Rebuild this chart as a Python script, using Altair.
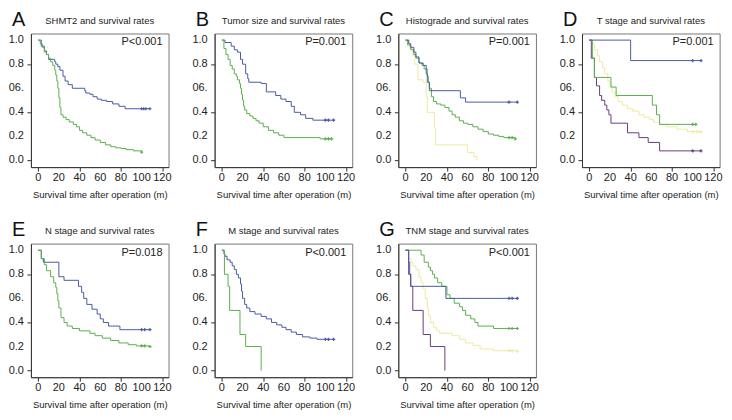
import altair as alt
import pandas as pd

FONT = "Liberation Sans"

GROUPS = ["g1", "g2", "g3", "g4"]
COLORS = ["#4a5ca4", "#5cb04e", "#eeea9e", "#6b3c7c"]

letters = ["A", "B", "C", "D", "E", "F", "G"]
titles = [
    "SHMT2 and survival rates",
    "Tumor size and survival rates",
    "Histograde and survival rates",
    "T stage and survival rates",
    "N stage and survival rates",
    "M stage and survival rates",
    "TNM stage and survival rates",
]
p_values = ["P<0.001", "P=0.001", "P=0.001", "P=0.001", "P=0.018", "P<0.001", "P<0.001"]

x_ticks = [0, 20, 40, 60, 80, 100, 120]
x_labels = ["0", "20", "40", "60", "80", "100", "120"]
y_ticks = [0.0, 0.2, 0.4, 0.6, 0.8, 1.0]
y_labels = ["0.0", "0.2", "0.4", "06.", "0.8", "1.0"]
x_title = "Survival time after operation (m)"

# ---- Panel A ----
A_g1_t = [0, 3, 6, 8, 10, 16, 17, 19, 21, 24, 26, 29, 33, 45, 46, 50, 53, 57, 61, 66, 72, 78, 84, 108]
A_g1_s = [1.0, 0.95, 0.91, 0.88, 0.84, 0.82, 0.80, 0.78, 0.75, 0.70, 0.66, 0.63, 0.60, 0.58, 0.56, 0.55, 0.53, 0.51, 0.50, 0.49, 0.47, 0.45, 0.43, 0.43]
A_g1_c = [100, 102, 104, 108]
A_g2_t = [0, 2, 4, 6, 8, 10, 12, 14, 16, 17, 18, 19, 20, 21, 22, 24, 27, 30, 34, 37, 40, 43, 47, 51, 55, 60, 65, 70, 75, 80, 85, 92, 100]
A_g2_s = [1.0, 0.97, 0.94, 0.90, 0.88, 0.85, 0.82, 0.79, 0.75, 0.71, 0.66, 0.60, 0.52, 0.44, 0.38, 0.36, 0.34, 0.32, 0.30, 0.28, 0.25, 0.23, 0.21, 0.19, 0.17, 0.15, 0.13, 0.115, 0.105, 0.10, 0.09, 0.08, 0.07]
A_g2_c = [100]

# ---- Panel B ----
B_g1_t = [0, 3, 9, 12, 15, 18, 20, 23, 25, 26, 38, 43, 52, 57, 62, 67, 70, 76, 81, 88, 108]
B_g1_s = [1.0, 0.98, 0.95, 0.92, 0.90, 0.84, 0.80, 0.72, 0.68, 0.65, 0.64, 0.57, 0.54, 0.51, 0.49, 0.45, 0.40, 0.38, 0.35, 0.335, 0.335]
B_g1_c = [100, 103, 108]
B_g2_t = [0, 2, 4, 6, 8, 10, 12, 14, 15, 17, 18, 19, 20, 21, 22, 24, 27, 30, 33, 36, 40, 45, 50, 55, 60, 95, 106]
B_g2_s = [1.0, 0.93, 0.88, 0.84, 0.79, 0.76, 0.72, 0.70, 0.67, 0.64, 0.60, 0.55, 0.50, 0.45, 0.42, 0.39, 0.37, 0.35, 0.33, 0.31, 0.28, 0.25, 0.23, 0.21, 0.19, 0.18, 0.18]
B_g2_c = [100, 103, 106]

# ---- Panel C ----
C_g1_t = [0, 3, 5, 8, 10, 13, 17, 20, 21, 23, 53, 58, 108]
C_g1_s = [1.0, 0.97, 0.94, 0.90, 0.86, 0.81, 0.79, 0.72, 0.65, 0.58, 0.52, 0.485, 0.485]
C_g1_c = [100, 108]
C_g2_t = [0, 2, 5, 8, 10, 13, 16, 18, 21, 22, 23, 25, 27, 30, 34, 38, 42, 45, 48, 52, 56, 60, 65, 70, 75, 80, 85, 90, 95, 106]
C_g2_s = [1.0, 0.96, 0.92, 0.88, 0.85, 0.81, 0.79, 0.76, 0.70, 0.65, 0.60, 0.53, 0.49, 0.47, 0.46, 0.44, 0.41, 0.38, 0.36, 0.33, 0.31, 0.30, 0.28, 0.26, 0.24, 0.22, 0.21, 0.20, 0.19, 0.18]
C_g2_c = [100, 103, 106]
C_g3_t = [0, 4, 7, 9, 12, 17, 20, 21, 28, 29, 60, 66, 69]
C_g3_s = [1.0, 0.93, 0.87, 0.80, 0.67, 0.65, 0.53, 0.40, 0.27, 0.13, 0.067, 0.033, 0.0]
C_g3_c = []

# ---- Panel D ----
D_g1_t = [0, 40, 108]
D_g1_s = [1.0, 0.83, 0.83]
D_g1_c = [100, 108]
D_g2_t = [0, 3, 5, 21, 26, 61, 65, 68, 103]
D_g2_s = [1.0, 0.85, 0.69, 0.61, 0.54, 0.46, 0.38, 0.30, 0.30]
D_g2_c = [100, 103]
D_g3_t = [0, 3, 5, 8, 10, 13, 15, 18, 20, 22, 25, 28, 32, 37, 42, 48, 53, 58, 62, 68, 75, 85, 95, 108]
D_g3_s = [1.0, 0.97, 0.92, 0.87, 0.82, 0.77, 0.72, 0.66, 0.62, 0.57, 0.53, 0.49, 0.46, 0.43, 0.41, 0.38, 0.36, 0.34, 0.32, 0.30, 0.28, 0.26, 0.24, 0.235]
D_g3_c = [100, 104, 108]
D_g4_t = [0, 2, 5, 7, 10, 12, 15, 17, 19, 21, 37, 48, 57, 68, 108]
D_g4_s = [1.0, 0.85, 0.69, 0.62, 0.54, 0.50, 0.46, 0.42, 0.38, 0.31, 0.23, 0.19, 0.15, 0.08, 0.08]
D_g4_c = [100, 108]

# ---- Panel E ----
E_g1_t = [0, 3, 5, 20, 25, 39, 42, 44, 47, 52, 57, 60, 63, 68, 79, 108]
E_g1_s = [1.0, 0.93, 0.90, 0.78, 0.75, 0.70, 0.65, 0.60, 0.55, 0.51, 0.47, 0.43, 0.40, 0.37, 0.34, 0.34]
E_g1_c = [100, 103, 108]
E_g2_t = [0, 3, 6, 8, 12, 15, 17, 18, 19, 20, 22, 25, 28, 33, 40, 50, 55, 62, 70, 78, 87, 95, 108]
E_g2_s = [1.0, 0.93, 0.88, 0.83, 0.78, 0.73, 0.69, 0.64, 0.58, 0.52, 0.44, 0.40, 0.37, 0.35, 0.33, 0.31, 0.29, 0.27, 0.25, 0.23, 0.215, 0.205, 0.20]
E_g2_c = [100, 103, 108]

# ---- Panel F ----
F_g1_t = [0, 2, 3, 5, 8, 10, 12, 14, 16, 18, 19, 20, 22, 24, 27, 32, 38, 43, 48, 53, 58, 62, 67, 72, 78, 85, 92, 108]
F_g1_s = [1.0, 0.97, 0.95, 0.92, 0.90, 0.87, 0.84, 0.80, 0.77, 0.72, 0.66, 0.60, 0.55, 0.52, 0.49, 0.47, 0.45, 0.43, 0.40, 0.38, 0.36, 0.34, 0.32, 0.30, 0.28, 0.27, 0.26, 0.26]
F_g1_c = [100, 103, 108]
F_g2_t = [0, 2.5, 6, 7.5, 17.5, 23, 38]
F_g2_s = [1.0, 0.8, 0.7, 0.5, 0.3, 0.2, 0.0]
F_g2_c = []

# ---- Panel G ----
G_g1_t = [0, 3, 4, 5, 39, 108]
G_g1_s = [1.0, 0.9, 0.8, 0.7, 0.6, 0.6]
G_g1_c = [100, 103, 108]
G_g2_t = [0, 15, 18, 22, 24, 26, 28, 31, 35, 40, 43, 47, 52, 55, 58, 63, 67, 70, 85, 108]
G_g2_s = [1.0, 0.96, 0.90, 0.86, 0.83, 0.80, 0.77, 0.73, 0.70, 0.63, 0.60, 0.56, 0.53, 0.50, 0.46, 0.43, 0.40, 0.37, 0.35, 0.35]
G_g2_c = [100, 103, 108]
G_g3_t = [0, 3, 5, 7, 10, 13, 15, 17, 19, 21, 22, 24, 27, 30, 33, 45, 52, 58, 65, 72, 85, 108]
G_g3_s = [1.0, 0.93, 0.90, 0.87, 0.84, 0.78, 0.73, 0.68, 0.60, 0.52, 0.46, 0.40, 0.36, 0.33, 0.31, 0.29, 0.26, 0.23, 0.21, 0.18, 0.165, 0.16]
G_g3_c = [100, 103, 108]
G_g4_t = [0, 3, 5, 7, 17, 24, 38]
G_g4_s = [1.0, 0.8, 0.7, 0.5, 0.3, 0.2, 0.0]
G_g4_c = []

panels_series = [
    {"g1": (A_g1_t, A_g1_s, A_g1_c), "g2": (A_g2_t, A_g2_s, A_g2_c)},
    {"g1": (B_g1_t, B_g1_s, B_g1_c), "g2": (B_g2_t, B_g2_s, B_g2_c)},
    {"g3": (C_g3_t, C_g3_s, C_g3_c), "g2": (C_g2_t, C_g2_s, C_g2_c), "g1": (C_g1_t, C_g1_s, C_g1_c)},
    {"g3": (D_g3_t, D_g3_s, D_g3_c), "g4": (D_g4_t, D_g4_s, D_g4_c), "g2": (D_g2_t, D_g2_s, D_g2_c), "g1": (D_g1_t, D_g1_s, D_g1_c)},
    {"g1": (E_g1_t, E_g1_s, E_g1_c), "g2": (E_g2_t, E_g2_s, E_g2_c)},
    {"g1": (F_g1_t, F_g1_s, F_g1_c), "g2": (F_g2_t, F_g2_s, F_g2_c)},
    {"g3": (G_g3_t, G_g3_s, G_g3_c), "g4": (G_g4_t, G_g4_s, G_g4_c), "g2": (G_g2_t, G_g2_s, G_g2_c), "g1": (G_g1_t, G_g1_s, G_g1_c)},
]

W, H = 138, 134
XDOM = [-7, 126]
YDOM = [-0.055, 1.055]

xlab_df = pd.DataFrame({"t": x_ticks, "lab": x_labels})
ylab_df = pd.DataFrame({"s": y_ticks, "lab": y_labels})


def step_value(ts, ss, t):
    v = ss[0]
    for ti, si in zip(ts, ss):
        if ti <= t:
            v = si
    return v


def make_panel(letter, title, pval, series):
    rows, crow = [], []
    for g, (ts, ss, cs) in series.items():
        for ti, si in zip(ts, ss):
            rows.append({"group": g, "t": ti, "s": si})
        for c in cs:
            crow.append({"group": g, "t": c, "s": step_value(ts, ss, c)})
    df = pd.DataFrame(rows)
    dfc = pd.DataFrame(crow)

    xaxis = alt.Axis(values=x_ticks, title=x_title, labels=False, titlePadding=18)
    yaxis = alt.Axis(values=y_ticks, title=None, labels=False)
    cenc = alt.Color("group:N", scale=alt.Scale(domain=GROUPS, range=COLORS), legend=None)

    layers = [alt.Chart(df).mark_line(interpolate="step-after", strokeWidth=1).encode(
        x=alt.X("t:Q", scale=alt.Scale(domain=XDOM, nice=False, zero=False), axis=xaxis),
        y=alt.Y("s:Q", scale=alt.Scale(domain=YDOM, nice=False, zero=False), axis=yaxis),
        color=cenc, detail="group:N", order="t:Q")]
    if len(dfc):
        layers.append(alt.Chart(dfc).mark_point(shape="M0,-1V1M-1,0H1", size=10, strokeWidth=1.2,
                                                filled=False, opacity=1).encode(
            x="t:Q", y="s:Q", color=cenc))
    # tick labels drawn as text through the panel's own scales
    layers.append(alt.Chart(xlab_df).mark_text(
        align="center", baseline="middle", fontSize=11, font=FONT, color="#222").encode(
        x="t:Q", y=alt.value(H + 10.5), text="lab:N"))
    layers.append(alt.Chart(ylab_df).mark_text(
        align="right", baseline="middle", fontSize=11, font=FONT, color="#222").encode(
        y="s:Q", x=alt.value(-7), text="lab:N"))
    layers.append(alt.Chart(pd.DataFrame({"p": [pval]})).mark_text(
        align="right", baseline="middle", fontSize=11, font=FONT, color="#222").encode(
        text="p:N", x=alt.value(W - 6), y=alt.value(9)))
    layers.append(alt.Chart(pd.DataFrame({"l": [letter]})).mark_text(
        align="left", baseline="middle", fontSize=20, font=FONT, color="#111").encode(
        text="l:N", x=alt.value(-19), y=alt.value(-14)))
    layers.append(alt.Chart(pd.DataFrame({"ti": [title]})).mark_text(
        align="center", baseline="middle", fontSize=9.5, font=FONT, color="#222").encode(
        text="ti:N", x=alt.value(W / 2), y=alt.value(-12.5)))
    return alt.layer(*layers).properties(width=W, height=H)


charts = [make_panel(l, t, p, s) for l, t, p, s in zip(letters, titles, p_values, panels_series)]

chart = alt.concat(*charts, columns=4, spacing={"row": 76.7, "column": 46.2}, bounds="flush").properties(
    padding={"left": 0, "top": 0, "right": 0, "bottom": 0}, background="white"
).configure_axis(
    titleFont=FONT, titleFontSize=9.5, titleFontWeight="normal", titleColor="#222",
    tickSize=4, tickColor="#333", domainColor="#333", grid=False,
).configure_view(stroke="#777", strokeWidth=1)

chart.save("out.html", embed_options={"renderer": "svg", "actions": False})
